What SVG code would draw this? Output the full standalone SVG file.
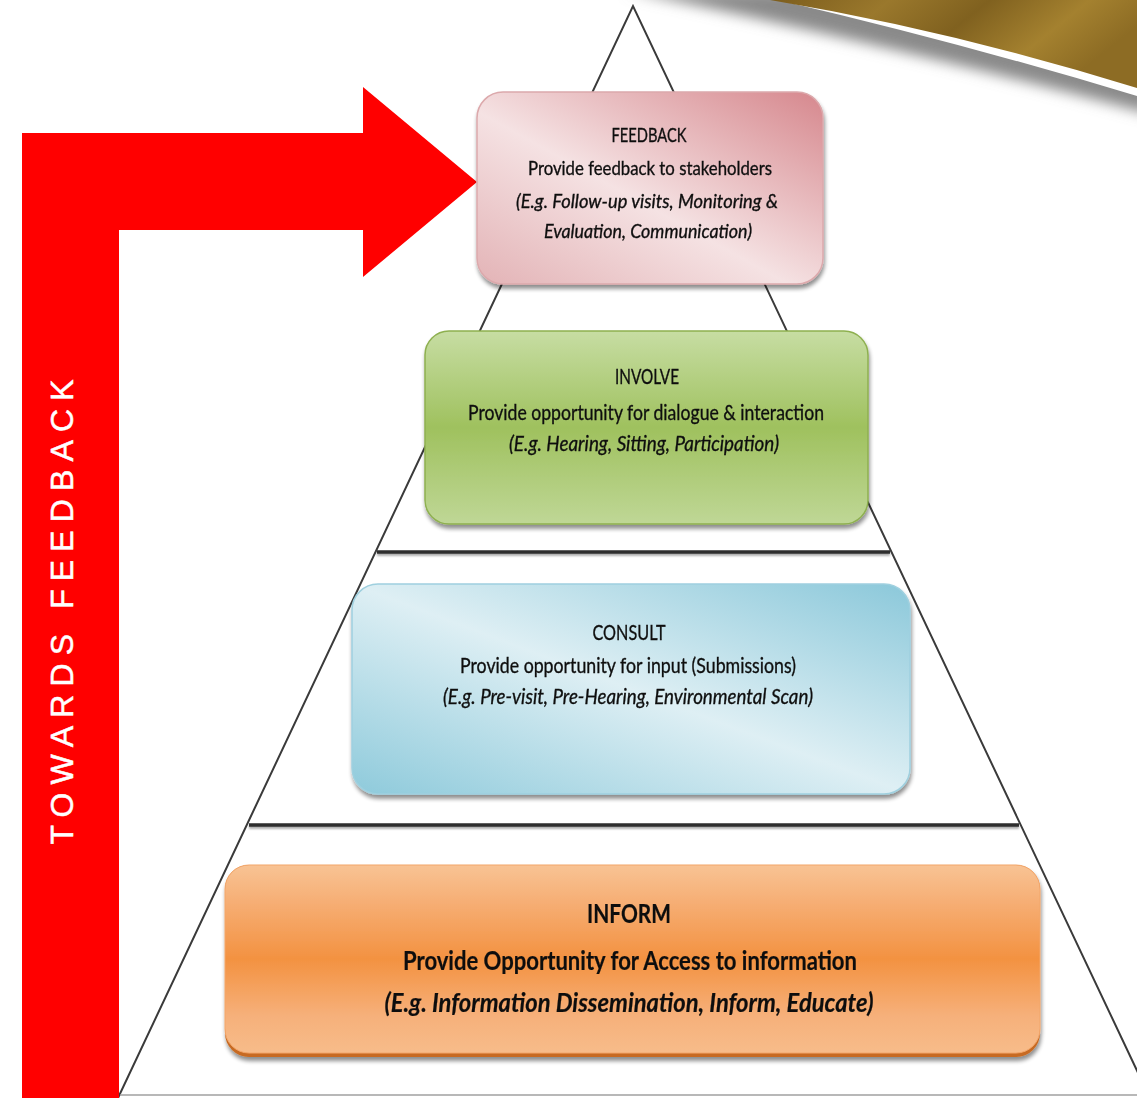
<svg xmlns="http://www.w3.org/2000/svg" width="1137" height="1098" viewBox="0 0 1137 1098">
  <defs>
    <linearGradient id="gFeedback" x1="0" y1="1" x2="1" y2="0">
      <stop offset="0" stop-color="#e3b3b6"/>
      <stop offset="0.45" stop-color="#f5e2e3"/>
      <stop offset="1" stop-color="#d6878d"/>
    </linearGradient>
    <linearGradient id="gInvolve" x1="0" y1="0" x2="0" y2="1">
      <stop offset="0" stop-color="#c7dda3"/>
      <stop offset="0.5" stop-color="#9fc15e"/>
      <stop offset="1" stop-color="#bfd796"/>
    </linearGradient>
    <linearGradient id="gConsult" x1="0" y1="1" x2="1" y2="0">
      <stop offset="0" stop-color="#8ecadb"/>
      <stop offset="0.5" stop-color="#deeff4"/>
      <stop offset="1" stop-color="#8bc8da"/>
    </linearGradient>
    <linearGradient id="gInform" x1="0" y1="0" x2="0" y2="1">
      <stop offset="0" stop-color="#f8c394"/>
      <stop offset="0.2" stop-color="#f6ae74"/>
      <stop offset="0.5" stop-color="#f39241"/>
      <stop offset="0.8" stop-color="#f6b07a"/>
      <stop offset="1" stop-color="#f7bc8a"/>
    </linearGradient>
    <linearGradient id="gGold" x1="0" y1="0" x2="1" y2="0.3">
      <stop offset="0" stop-color="#7c5d1d"/>
      <stop offset="0.3" stop-color="#9a782c"/>
      <stop offset="0.55" stop-color="#80611f"/>
      <stop offset="0.8" stop-color="#a4812f"/>
      <stop offset="1" stop-color="#8d6c24"/>
    </linearGradient>
    <filter id="boxShadow" x="-5%" y="-5%" width="110%" height="115%">
      <feGaussianBlur in="SourceAlpha" stdDeviation="2"/>
      <feOffset dx="1" dy="4" result="b"/>
      <feComponentTransfer><feFuncA type="linear" slope="0.45"/></feComponentTransfer>
      <feMerge><feMergeNode/><feMergeNode in="SourceGraphic"/></feMerge>
    </filter>
    <filter id="lineBlur" filterUnits="userSpaceOnUse" x="0" y="0" width="1137" height="1098">
      <feGaussianBlur stdDeviation="1.3"/>
    </filter>
    <filter id="soft" x="-20%" y="-50%" width="140%" height="200%">
      <feGaussianBlur stdDeviation="7"/>
    </filter>
  </defs>
  <style>
    .edge { stroke: #3a3a3a; stroke-width: 2; fill: none; }
    .tier { stroke: #2e2e2e; stroke-width: 3.5; fill: none; }
    .tier-shadow { stroke: #000; stroke-opacity: 0.35; stroke-width: 3.5; fill: none; }
    .label { font-family: Lato, "Liberation Sans", sans-serif; fill: #111; stroke: #111; stroke-width: 0.35; text-anchor: middle; }
    .ex { font-style: italic; }
    .big { font-weight: bold; stroke-width: 0.2; }
  </style>

  <rect width="1137" height="1098" fill="#ffffff"/>

  <!-- corner swoosh -->
  <g id="swoosh">
    <path d="M 625 -10 Q 920 52 1150 114 L 1150 -10 Z" fill="#8a8a8a" filter="url(#soft)"/>
    <path d="M 690 -20 Q 935 34 1150 100 L 1150 -20 Z" fill="#ffffff"/>
    <path d="M 770 0 Q 950 30 1137 88 L 1137 0 Z" fill="url(#gGold)"/>
  </g>

  <!-- pyramid outline and tier dividers -->
  <g id="pyramid">
    <path class="edge" d="M 118 1098 L 633 6 L 1150 1098"/>
    <g filter="url(#lineBlur)">
      <line class="tier-shadow" x1="377" y1="554" x2="890" y2="554"/>
      <line class="tier-shadow" x1="249" y1="827" x2="1019" y2="827"/>
    </g>
    <line class="tier" x1="377" y1="552" x2="890" y2="552"/>
    <line class="tier" x1="249" y1="825" x2="1019" y2="825"/>
    <line x1="120" y1="1095" x2="1137" y2="1095" stroke="#a0a0a0" stroke-width="1.5"/>
  </g>

  <!-- feedback arrow -->
  <g id="arrow">
    <path d="M 22 1098 L 22 133 L 363 133 L 363 87 L 477 182 L 363 277 L 363 230 L 119 230 L 119 1098 Z" fill="#ff0000"/>
    <text x="73" y="612" transform="rotate(-90 73 612)" font-family="'Liberation Sans', Arial, sans-serif" font-size="32" fill="#ffffff" stroke="#ffffff" stroke-width="0.5" text-anchor="middle" textLength="465" lengthAdjust="spacing">TOWARDS FEEDBACK</text>
  </g>

  <g id="feedback" filter="url(#boxShadow)">
    <rect x="477" y="92" width="346" height="192" rx="26" fill="url(#gFeedback)" stroke="#dca9ac" stroke-width="1.5"/>
    <text class="label" x="649" y="142" font-size="19" textLength="75" lengthAdjust="spacingAndGlyphs">FEEDBACK</text>
    <text class="label" x="650" y="175" font-size="19" textLength="244" lengthAdjust="spacingAndGlyphs">Provide feedback to stakeholders</text>
    <text class="label ex" x="647" y="208" font-size="19" textLength="262" lengthAdjust="spacingAndGlyphs">(E.g. Follow-up visits, Monitoring &amp;</text>
    <text class="label ex" x="648" y="238" font-size="19" textLength="208" lengthAdjust="spacingAndGlyphs">Evaluation, Communication)</text>
  </g>

  <g id="involve" filter="url(#boxShadow)">
    <rect x="425" y="331" width="443" height="193" rx="24" fill="url(#gInvolve)" stroke="#8eb050" stroke-width="1.5"/>
    <text class="label" x="647" y="384" font-size="21" textLength="64" lengthAdjust="spacingAndGlyphs">INVOLVE</text>
    <text class="label" x="646" y="420" font-size="21" textLength="356" lengthAdjust="spacingAndGlyphs">Provide opportunity for dialogue &amp; interaction</text>
    <text class="label ex" x="644" y="451" font-size="21" textLength="270" lengthAdjust="spacingAndGlyphs">(E.g. Hearing, Sitting, Participation)</text>
  </g>

  <g id="consult" filter="url(#boxShadow)">
    <rect x="352" y="584" width="558" height="210" rx="26" fill="url(#gConsult)" stroke="#9fd0df" stroke-width="1.5"/>
    <text class="label" x="629" y="640" font-size="21" textLength="73" lengthAdjust="spacingAndGlyphs">CONSULT</text>
    <text class="label" x="628" y="673" font-size="21" textLength="336" lengthAdjust="spacingAndGlyphs">Provide opportunity for input (Submissions)</text>
    <text class="label ex" x="628" y="704" font-size="21" textLength="370" lengthAdjust="spacingAndGlyphs">(E.g. Pre-visit, Pre-Hearing, Environmental Scan)</text>
  </g>

  <g id="inform" filter="url(#boxShadow)">
    <rect x="225" y="865" width="815" height="192" rx="24" fill="#c76a22"/>
    <rect x="225" y="865" width="815" height="188" rx="24" fill="url(#gInform)" stroke="#f3a66a" stroke-width="1"/>
    <text class="label big" x="629" y="923" font-size="27" textLength="84" lengthAdjust="spacingAndGlyphs">INFORM</text>
    <text class="label big" x="630" y="970" font-size="27" textLength="454" lengthAdjust="spacingAndGlyphs">Provide Opportunity for Access to information</text>
    <text class="label big ex" x="629" y="1012" font-size="27" textLength="489" lengthAdjust="spacingAndGlyphs">(E.g. Information Dissemination, Inform, Educate)</text>
  </g>
</svg>
